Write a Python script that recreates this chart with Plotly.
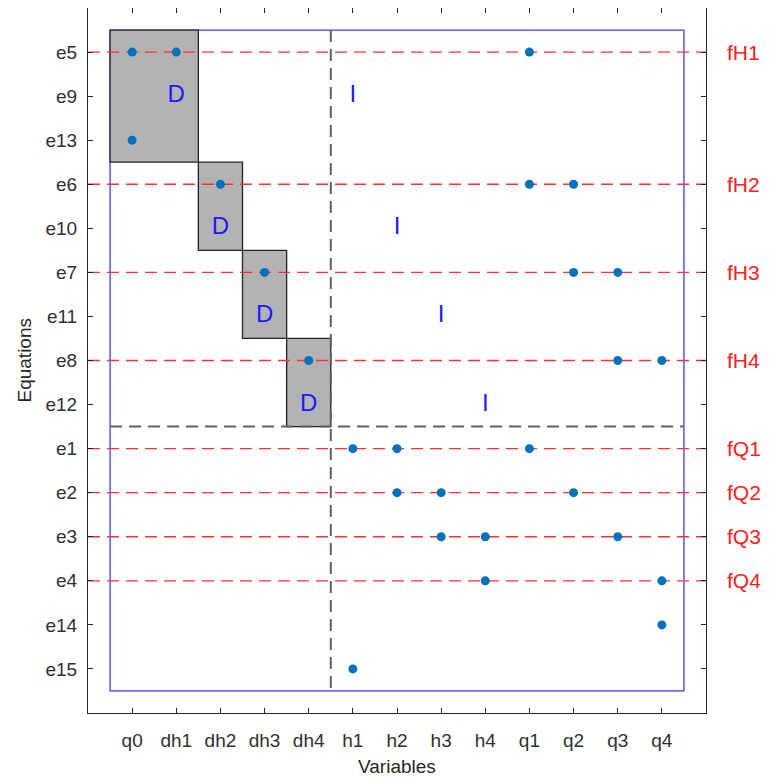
import plotly.graph_objects as go

# ---- data ----
variables = ["q0", "dh1", "dh2", "dh3", "dh4", "h1", "h2", "h3", "h4", "q1", "q2", "q3", "q4"]
equations = ["e5", "e9", "e13", "e6", "e10", "e7", "e11", "e8", "e12", "e1", "e2", "e3", "e4", "e14", "e15"]

# incidence points: (equation, variable)
point_eqs = ["e5", "e5", "e5", "e13", "e6", "e6", "e6", "e7", "e7", "e7", "e8", "e8", "e8",
             "e1", "e1", "e1", "e2", "e2", "e2", "e3", "e3", "e3", "e4", "e4", "e14", "e15"]
point_vars = ["q0", "dh1", "q1", "q0", "dh2", "q1", "q2", "dh3", "q2", "q3", "dh4", "q3", "q4",
              "h1", "h2", "q1", "h2", "h3", "q2", "h3", "h4", "q3", "h4", "q4", "q4", "h1"]

# D markers (derivative) and I markers (integration)
d_eqs = ["e9", "e10", "e11", "e12"]
d_vars = ["dh1", "dh2", "dh3", "dh4"]
i_eqs = ["e9", "e10", "e11", "e12"]
i_vars = ["h1", "h2", "h3", "h4"]

# red function rows and labels
func_eqs = ["e5", "e6", "e7", "e8", "e1", "e2", "e3", "e4"]
func_labels = ["fH1", "fH2", "fH3", "fH4", "fQ1", "fQ2", "fQ3", "fQ4"]

# gray blocks: (first var, last var, first eq, last eq)
block_var_from = ["q0", "dh2", "dh3", "dh4"]
block_var_to = ["dh1", "dh2", "dh3", "dh4"]
block_eq_from = ["e5", "e6", "e7", "e8"]
block_eq_to = ["e13", "e10", "e11", "e12"]

# ---- helpers ----
FONT = "Liberation Sans, Arial, sans-serif"
xi = {v: i + 1 for i, v in enumerate(variables)}
yi = {e: i + 1 for i, e in enumerate(equations)}
nx, ny = len(variables), len(equations)

fig = go.Figure()
shapes = []

# blue outer rectangle
shapes.append(dict(type="rect", xref="x", yref="y", x0=0.5, x1=nx + 0.5, y0=0.5, y1=ny + 0.5,
                   line=dict(color="rgb(60,60,255)", width=1.3), layer="below"))
# gray blocks
for a, b, c, d in zip(block_var_from, block_var_to, block_eq_from, block_eq_to):
    shapes.append(dict(type="rect", xref="x", yref="y",
                       x0=xi[a] - 0.5, x1=xi[b] + 0.5, y0=yi[c] - 0.5, y1=yi[d] + 0.5,
                       fillcolor="#b3b3b3", line=dict(color="#222222", width=1.3), layer="below"))
# red dashed lines
for e in func_eqs:
    shapes.append(dict(type="line", xref="x", yref="y", x0=0, x1=nx + 1, y0=yi[e], y1=yi[e],
                       line=dict(color="#ff3030", width=1.3, dash="12px,7px"), layer="below"))
# gray dashed separators
split_x = xi["dh4"] + 0.5
split_y = yi["e12"] + 0.5
shapes.append(dict(type="line", xref="x", yref="y", x0=split_x, x1=split_x, y0=0.5, y1=ny + 0.5,
                   line=dict(color="#606060", width=2, dash="12px,7px"), layer="below"))
shapes.append(dict(type="line", xref="x", yref="y", x0=0.5, x1=nx + 0.5, y0=split_y, y1=split_y,
                   line=dict(color="#606060", width=2, dash="12px,7px"), layer="below"))

fig.add_trace(go.Scatter(
    x=[xi[v] for v in point_vars], y=[yi[e] for e in point_eqs], mode="markers",
    marker=dict(color="#0072BD", size=9), hoverinfo="skip", showlegend=False))

fig.add_trace(go.Scatter(
    x=[xi[v] for v in d_vars], y=[yi[e] for e in d_eqs], mode="text", text=["D"] * len(d_vars),
    textfont=dict(color="#1a1aff", size=24, family=FONT),
    hoverinfo="skip", showlegend=False))
fig.add_trace(go.Scatter(
    x=[xi[v] for v in i_vars], y=[yi[e] for e in i_eqs], mode="text", text=["I"] * len(i_vars),
    textfont=dict(color="#1a1aff", size=24, family=FONT),
    hoverinfo="skip", showlegend=False))

annotations = []
for e, lab in zip(func_eqs, func_labels):
    annotations.append(dict(x=1.0, xref="paper", xshift=19, y=yi[e], yref="y", text=lab,
                            showarrow=False, xanchor="left", yanchor="middle",
                            font=dict(color="#ff2020", size=21, family=FONT)))
annotations.append(dict(x=0.5, xref="paper", y=0, yref="paper", yshift=-53, text="Variables",
                        showarrow=False, xanchor="center", yanchor="middle",
                        font=dict(size=19, color="#262626", family=FONT)))
annotations.append(dict(x=0, xref="paper", xshift=-64, y=0.5, yref="paper", text="Equations",
                        showarrow=False, xanchor="center", yanchor="middle", textangle=-90,
                        font=dict(size=19, color="#262626", family=FONT)))

axis_common = dict(showgrid=False, zeroline=False, showline=True, linecolor="#262626", linewidth=1,
                   mirror="ticks", ticks="inside", ticklen=5, tickcolor="#262626", automargin=False,
                   tickfont=dict(size=19, color="#303030", family=FONT))

fig.update_layout(
    width=761, height=772,
    margin=dict(l=80, r=63, t=0, b=67),
    plot_bgcolor="white", paper_bgcolor="white",
    shapes=shapes, annotations=annotations,
    xaxis=dict(range=[0, nx + 1], tickmode="array", tickvals=list(range(1, nx + 1)),
               ticktext=variables, ticklabelstandoff=10, **axis_common),
    yaxis=dict(range=[ny + 1, 0], tickmode="array", tickvals=list(range(1, ny + 1)),
               ticktext=equations, ticklabelstandoff=6, **axis_common),
)

fig.write_html("out.html")
